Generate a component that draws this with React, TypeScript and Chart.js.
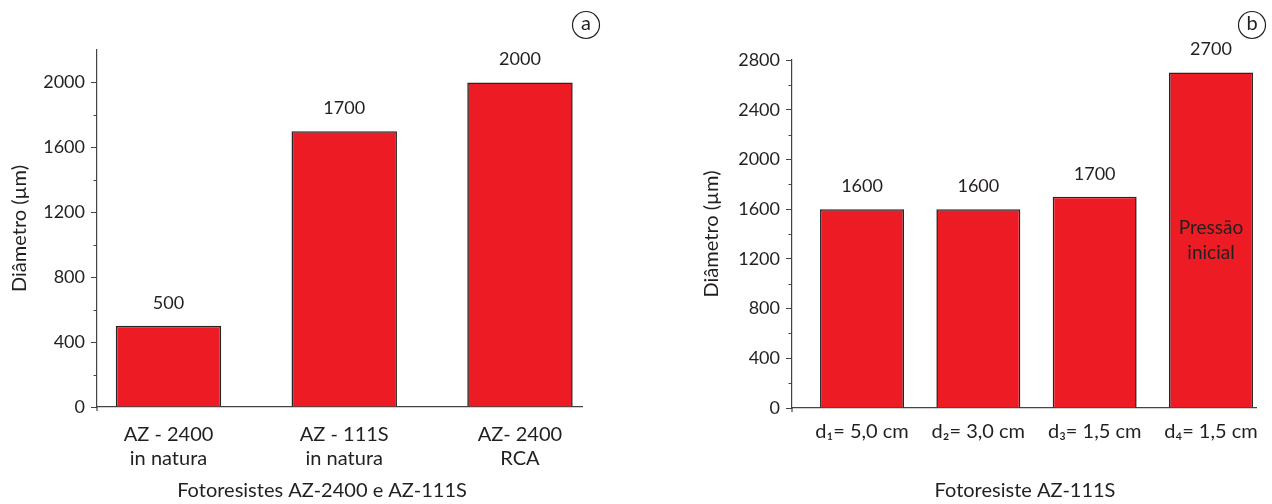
import React, { useEffect, useRef } from "react";
import { Chart, registerables } from "chart.js";

Chart.register(...registerables);

const FONT = "Lato, 'Open Sans', sans-serif";
const TEXT = "#231f20";
const AXIS = "#444444";
const RED = "#ed1c24";
const BAR_BORDER = "#262626";

// ---- Data: chart (a) ----
const leftCategories: string[][] = [
  ["AZ - 2400", "in natura"],
  ["AZ - 111S", "in natura"],
  ["AZ- 2400", "RCA"],
];
const leftValues = [500, 1700, 2000];
const leftMajorTicks = [0, 400, 800, 1200, 1600, 2000];
const leftMinorTicks = [200, 600, 1000, 1400, 1800];

// ---- Data: chart (b) ----
const rightCategories = ["d₁= 5,0 cm", "d₂= 3,0 cm", "d₃= 1,5 cm", "d₄= 1,5 cm"];
const rightValues = [1600, 1600, 1700, 2700];
const rightMajorTicks = [0, 400, 800, 1200, 1600, 2000, 2400, 2800];
const rightMinorTicks = [200, 600, 1000, 1400, 1800, 2200, 2600];
const rightBarNote = ["Pressão", "inicial"];

const yTitle = "Diâmetro (µm)";
const leftXTitle = "Fotoresistes AZ-2400 e AZ-111S";
const rightXTitle = "Fotoresiste AZ-111S";

const decorPlugin = {
  id: "decor",
  afterDraw(chart: any, _args: any, opts: any) {
    const ctx: CanvasRenderingContext2D = chart.ctx;
    const y = chart.scales.y;
    ctx.save();
    // minor ticks
    ctx.strokeStyle = AXIS;
    ctx.lineWidth = 1;
    for (const v of opts.minor as number[]) {
      const py = Math.round(y.getPixelForValue(v)) + 0.5;
      ctx.beginPath();
      ctx.moveTo(y.right - 3.5, py);
      ctx.lineTo(y.right, py);
      ctx.stroke();
    }
    // small extension of the y axis below the origin
    ctx.lineWidth = 1.2;
    ctx.beginPath();
    ctx.moveTo(y.right, y.bottom);
    ctx.lineTo(y.right, y.bottom + 4);
    ctx.stroke();
    // value labels
    const meta = chart.getDatasetMeta(0);
    ctx.fillStyle = TEXT;
    ctx.font = `18px ${FONT}`;
    ctx.textAlign = "center";
    ctx.textBaseline = "middle";
    meta.data.forEach((bar: any, i: number) => {
      ctx.fillText(String(opts.values[i]), bar.x, bar.y - 23);
    });
    // note inside a bar
    ctx.font = `19px ${FONT}`;
    if (opts.note) {
      const bar = meta.data[opts.note.index];
      const mid = (bar.y + bar.base) / 2;
      opts.note.lines.forEach((line: string, k: number) => {
        ctx.fillText(line, bar.x, mid - 12 + k * 25);
      });
    }
    // x title
    ctx.font = `20px ${FONT}`;
    if (opts.xTitle) {
      ctx.fillText(opts.xTitle.text, opts.xTitle.x, opts.xTitle.y);
    }
    // circled letter
    const { x: cx, y: cy, text } = opts.letter;
    ctx.beginPath();
    ctx.lineWidth = 1.2;
    ctx.strokeStyle = TEXT;
    ctx.arc(cx, cy, 13.5, 0, Math.PI * 2);
    ctx.stroke();
    ctx.fillText(text, cx, cy - 1);
    ctx.restore();
  },
};

function makeConfig(p: {
  cats: (string | string[])[];
  values: number[];
  major: number[];
  minor: number[];
  yMax: number;
  xMin: number;
  xMax: number;
  barPct: number;
  yWidth: number;
  xHeight: number;
  padTop: number;
  padRight: number;
  xTickPad: number;
  letter: any;
  note?: any;
  xTitle: any;
}): any {
  return {
    type: "bar",
    data: {
      datasets: [
        {
          data: p.values.map((v, i) => ({ x: i, y: v })),
          backgroundColor: RED,
          borderColor: BAR_BORDER,
          borderWidth: 1.6,
          barPercentage: p.barPct,
          categoryPercentage: 1,
        },
      ],
    },
    options: {
      responsive: false,
      animation: false,
      layout: { padding: { left: 0, top: p.padTop, right: p.padRight, bottom: 0 } },
      plugins: {
        legend: { display: false },
        tooltip: { enabled: false },
        decor: {
          values: p.values,
          minor: p.minor,
          letter: p.letter,
          note: p.note,
          xTitle: p.xTitle,
        },
      },
      scales: {
        x: {
          type: "linear",
          offset: false,
          min: p.xMin,
          max: p.xMax,
          afterBuildTicks: (axis: any) => {
            axis.ticks = p.cats.map((_, i) => ({ value: i }));
          },
          afterFit: (s: any) => {
            s.height = p.xHeight;
          },
          grid: { display: false, drawTicks: false },
          border: { display: true, color: AXIS, width: 1.2 },
          ticks: {
            autoSkip: false,
            maxRotation: 0,
            padding: p.xTickPad,
            color: TEXT,
            font: { family: FONT, size: 20, lineHeight: 1.2 },
            callback: (v: number) => p.cats[Math.round(v)] ?? "",
          },
        },
        y: {
          min: 0,
          max: p.yMax,
          afterBuildTicks: (axis: any) => {
            axis.ticks = p.major.map((v) => ({ value: v }));
          },
          afterFit: (s: any) => {
            s.width = p.yWidth;
          },
          grid: {
            display: true,
            drawOnChartArea: false,
            drawTicks: true,
            tickLength: 6,
            tickColor: AXIS,
            tickWidth: 1,
          },
          border: { display: true, color: AXIS, width: 1.2 },
          ticks: {
            padding: 6,
            color: TEXT,
            font: { family: FONT, size: 18 },
            callback: (v: number) => String(v),
          },
          title: {
            display: true,
            text: yTitle,
            color: TEXT,
            font: { family: FONT, size: 20 },
            padding: { top: 8, bottom: 0 },
          },
        },
      },
    },
    plugins: [decorPlugin],
  };
}

export default function App() {
  const leftRef = useRef<HTMLCanvasElement>(null);
  const rightRef = useRef<HTMLCanvasElement>(null);

  useEffect(() => {
    const left = new Chart(
      leftRef.current!,
      makeConfig({
        cats: leftCategories,
        values: leftValues,
        major: leftMajorTicks,
        minor: leftMinorTicks,
        yMax: 2200,
        xMin: -0.407,
        xMax: 2.353,
        barPct: 0.6,
        yWidth: 97,
        xHeight: 97,
        padTop: 50,
        padRight: 110,
        xTickPad: 16,
        letter: { x: 586, y: 25, text: "a" },
        xTitle: { text: leftXTitle, x: 322, y: 491 },
      })
    );
    const right = new Chart(
      rightRef.current!,
      makeConfig({
        cats: rightCategories,
        values: rightValues,
        major: rightMajorTicks,
        minor: rightMinorTicks,
        yMax: 2800,
        xMin: -0.602,
        xMax: 3.387,
        barPct: 0.722,
        yWidth: 100,
        xHeight: 96,
        padTop: 60,
        padRight: 16,
        xTickPad: 12,
        letter: { x: 560, y: 25, text: "b" },
        note: { index: 3, lines: rightBarNote },
        xTitle: { text: rightXTitle, x: 333, y: 491 },
      })
    );
    return () => {
      left.destroy();
      right.destroy();
    };
  }, []);

  return (
    <div style={{ position: "absolute", left: 0, top: 0, width: 1272, height: 504, background: "#fff" }}>
      <canvas
        ref={leftRef}
        width={692}
        height={504}
        style={{ position: "absolute", left: 0, top: 0, display: "block" }}
      />
      <canvas
        ref={rightRef}
        width={580}
        height={504}
        style={{ position: "absolute", left: 692, top: 0, display: "block" }}
      />
    </div>
  );
}
